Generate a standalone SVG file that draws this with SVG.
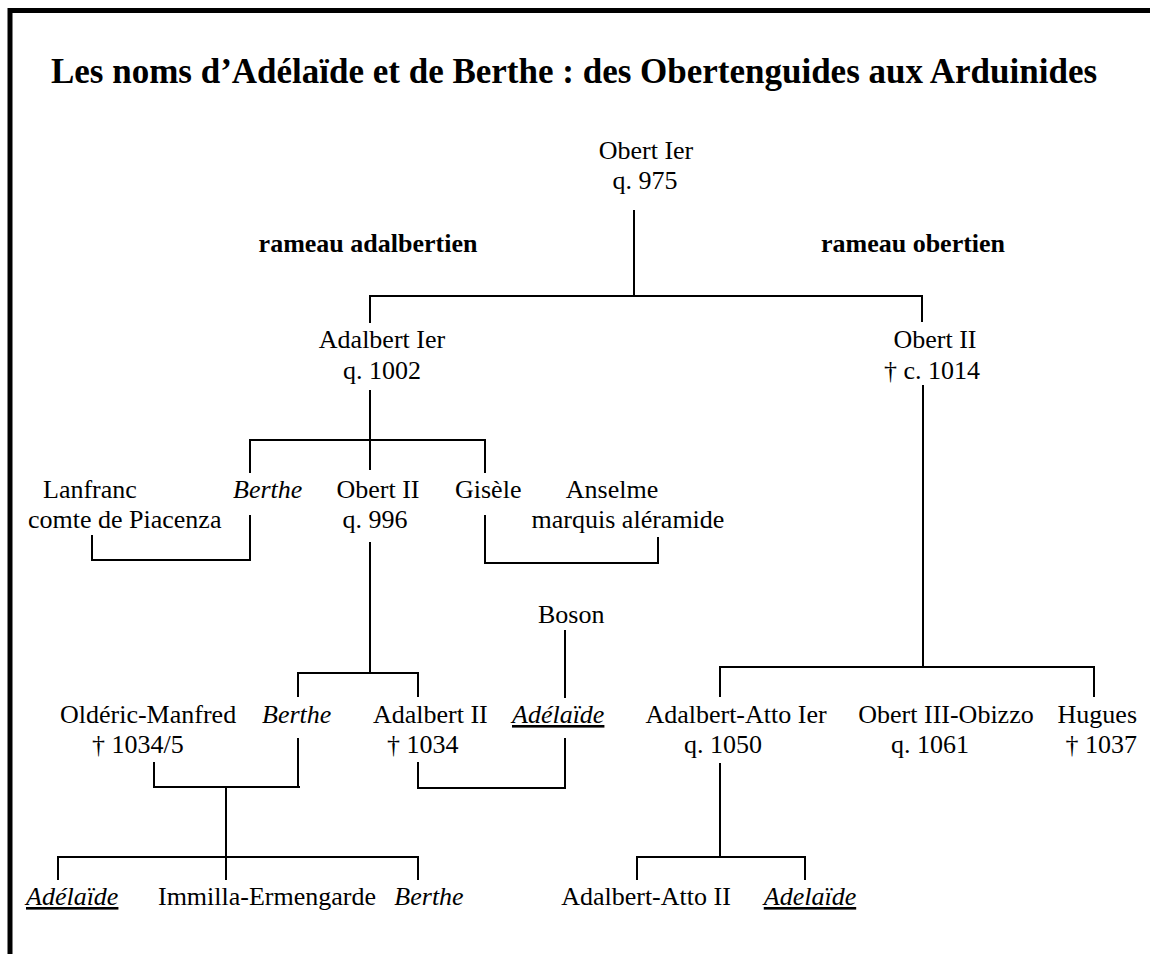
<svg xmlns="http://www.w3.org/2000/svg" width="1150" height="954" viewBox="0 0 1150 954">
<style>
text{font-family:"Liberation Serif","Times New Roman",serif;font-size:26px;fill:#000}
.m{text-anchor:middle}
.e{text-anchor:end}
.i{font-style:italic}
.b{font-weight:bold}
.u{text-decoration:underline}
.title{font-weight:bold;font-size:35px;text-anchor:middle}
.c{fill:none;stroke:#000;stroke-width:2}
</style>
<rect width="1150" height="954" fill="#fff"/>
<path d="M10,954 V10.5 H1150" fill="none" stroke="#000" stroke-width="5"/>
<text class="title" x="574" y="83">Les noms d’Adélaïde et de Berthe : des Obertenguides aux Arduinides</text>
<text class="b m" x="368" y="252">rameau adalbertien</text>
<text class="b m" x="913" y="252">rameau obertien</text>
<g id="connectors" class="c">
<path class="c" d="M634,210 V296 M370,323 V296 H922 V322"/>
<path class="c" d="M370,390 V470 M250,473 V440 H485 V473"/>
<path class="c" d="M923,385 V667 M720,697 V667 H1094 V697"/>
<path class="c" d="M92,535 V560 H250 V515"/>
<path class="c" d="M485,515 V563 H658 V537"/>
<path class="c" d="M370,542 V673 M298,697 V673 H418 V697"/>
<path class="c" d="M565,630 V698"/>
<path class="c" d="M154,762 V787 H300 M298,738 V787 M226,787 V857 M58,880 V857 H418 V880 M226,857 V880"/>
<path class="c" d="M418,762 V788 H565 V738"/>
<path class="c" d="M720,763 V857 M637,880 V857 H805 V880"/>
</g>
<g id="obert1"><text class="m" x="646" y="159">Obert Ier</text><text class="m" x="645" y="189">q. 975</text></g>
<g id="adalbert1"><text class="m" x="382" y="348">Adalbert Ier</text><text class="m" x="382" y="379">q. 1002</text></g>
<g id="obert2r"><text class="m" x="935" y="348">Obert II</text><text class="m" x="932" y="379">† c. 1014</text></g>
<g id="lanfranc"><text x="43" y="498">Lanfranc</text><text x="28" y="528">comte de Piacenza</text></g>
<g id="berthe1"><text class="i" x="233" y="498">Berthe</text></g>
<g id="obert2l"><text class="m" x="378" y="498">Obert II</text><text class="m" x="375" y="528">q. 996</text></g>
<g id="gisele"><text x="455" y="498">Gisèle</text></g>
<g id="anselme"><text class="m" x="612" y="498">Anselme</text><text class="m" x="628" y="528">marquis aléramide</text></g>
<g id="boson"><text x="538" y="623">Boson</text></g>
<g id="olderic"><text x="60" y="723">Oldéric-Manfred</text><text x="92" y="753">† 1034/5</text></g>
<g id="berthe2"><text class="i" x="262" y="723">Berthe</text></g>
<g id="adalbert2"><text x="373" y="723">Adalbert II</text><text x="387" y="753">† 1034</text></g>
<g id="adelaide1"><text class="i u" x="512" y="723">Adélaïde</text></g>
<g id="adalbertatto1"><text class="m" x="736" y="723">Adalbert-Atto Ier</text><text class="m" x="723" y="753">q. 1050</text></g>
<g id="obert3"><text class="m" x="946" y="723">Obert III-Obizzo</text><text class="m" x="930" y="753">q. 1061</text></g>
<g id="hugues"><text class="e" x="1137" y="723">Hugues</text><text class="e" x="1137" y="753">† 1037</text></g>
<g id="adelaide2"><text class="i u" x="26" y="905">Adélaïde</text></g>
<g id="immilla"><text class="m" x="267" y="905">Immilla-Ermengarde</text></g>
<g id="berthe3"><text class="i m" x="429" y="905">Berthe</text></g>
<g id="adalbertatto2"><text class="m" x="646" y="905">Adalbert-Atto II</text></g>
<g id="adelaide3"><text class="i u m" x="810" y="905">Adelaïde</text></g>
</svg>
